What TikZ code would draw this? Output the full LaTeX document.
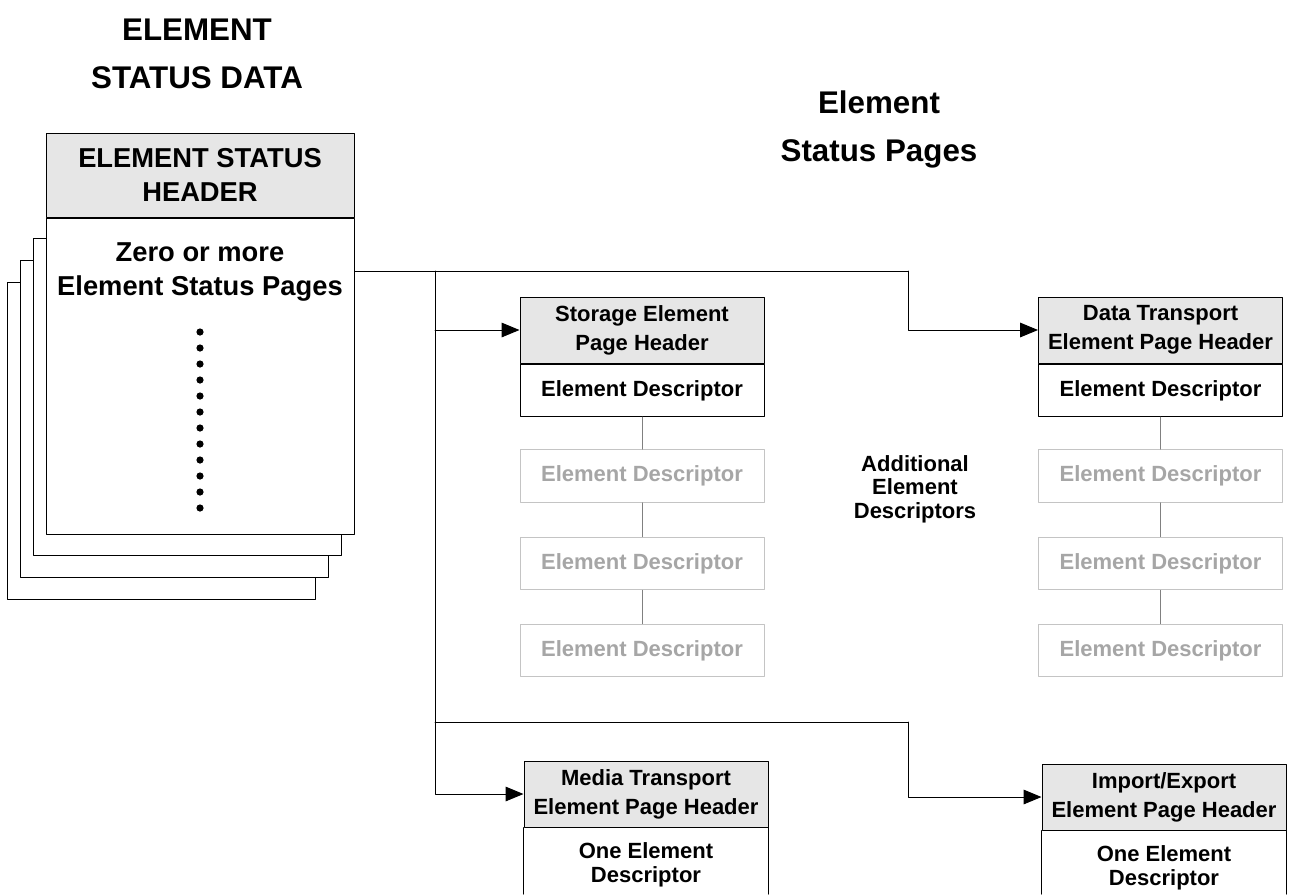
\documentclass[tikz,border=0pt]{standalone}
\usepackage{fontspec}
\setmainfont{Liberation Sans}
\usetikzlibrary{arrows.meta}

\definecolor{hdrgray}{HTML}{E6E6E6}
\definecolor{boxgray}{HTML}{C4C4C4}
\definecolor{txtgray}{HTML}{A6A6A6}
\definecolor{lnkgray}{HTML}{808080}

\begin{document}
\begin{tikzpicture}[x=0.75pt,y=-0.75pt,line cap=round,line join=round,line width=0.75pt,
	every node/.style={inner sep=0pt,align=center,font=\fontsize{16.5}{21.75}\selectfont\bfseries},
	title/.style={font=\fontsize{23.5}{36}\selectfont\bfseries},
	pagehdr/.style={draw,fill=hdrgray,minimum width=231pt,minimum height=63pt,font=\fontsize{20.5}{25.5}\selectfont\bfseries},
	sechdr/.style={draw,fill=hdrgray,minimum width=183pt,minimum height=49.5pt},
	descbox/.style={draw,fill=white,minimum width=183pt,minimum height=39.5pt},
	ghostbox/.style={descbox,draw=boxgray,text=txtgray},
	onedesc/.style={font=\fontsize{16.5}{18}\selectfont\bfseries},
	arr/.style={-{Triangle[length=13.5pt,width=11pt]}},
	lnk/.style={draw=lnkgray}]
		\useasboundingbox (0,0) rectangle (1295,894);
		\node[title] (ttlesd) at (197,54) {ELEMENT\\STATUS DATA};
		\node[title] (ttlesp) at (879,129) {Element\\Status Pages};
		\foreach \k in {3,2,1}
			\draw[fill=white] ({46-13*\k},{216+22*\k}) rectangle ++(308,317);
		\node[pagehdr] (esh) at (200,175) {ELEMENT STATUS\\HEADER};
		\node[draw,fill=white,minimum width=231pt,minimum height=237pt,anchor=north] (esb) at (esh.south) {};
		\node[font=\fontsize{20.5}{26}\selectfont\bfseries] (espages) at (200,272) {Zero or more\\Element Status Pages};
		\foreach \k in {0,...,11}
			\fill (200,{332+16*\k}) circle (2.7pt);
		\node[sechdr] (seh) at (642,330) {Storage Element\\Page Header};
		\node[descbox,anchor=north] (sed) at (seh.south) {Element Descriptor};
		\node[sechdr] (dth) at (1160.5,330) {Data Transport\\Element Page Header};
		\node[descbox,anchor=north] (dtd) at (dth.south) {Element Descriptor};
		\foreach \y [count=\i] in {476,563.5,650.5} {
			\node[ghostbox] (seg\i) at (642,\y) {Element Descriptor};
			\node[ghostbox] (dtg\i) at (1160.5,\y) {Element Descriptor};
		}
		\draw[lnk] (sed) -- (seg1);
		\draw[lnk] (seg1) -- (seg2);
		\draw[lnk] (seg2) -- (seg3);
		\draw[lnk] (dtd) -- (dtg1);
		\draw[lnk] (dtg1) -- (dtg2);
		\draw[lnk] (dtg2) -- (dtg3);
		\node (addl) at (915,489) [font=\fontsize{16.5}{17.6}\selectfont\bfseries] {Additional\\Element\\Descriptors};
		\node[sechdr] (mth) at (646,794) {Media Transport\\Element Page Header};
		\draw (mth.south west) -- (mth.south west |- 0,894);
		\draw (mth.south east) -- (mth.south east |- 0,894);
		\node[onedesc] (mtd) at (646,865) {One Element\\Descriptor};
		\node[sechdr] (ieh) at (1164,797) {Import/Export\\Element Page Header};
		\draw (ieh.south west) -- (ieh.south west |- 0,894);
		\draw (ieh.south east) -- (ieh.south east |- 0,894);
		\node[onedesc] (ied) at (1164,867.5) {One Element\\Descriptor};
		\coordinate (tap) at (esb.east |- 0,271);
		\coordinate (trunk) at (435,271);
		\coordinate (split) at (908,271);
		\coordinate (fork) at (435,722);
		\coordinate (bend) at (908,722);
		\draw (tap) -- (split);
		\draw[arr] (split) |- (dth.west);
		\draw[arr] (trunk) |- (mth.west);
		\draw[arr] (trunk |- seh.west) -- (seh.west);
		\draw (fork) -- (bend);
		\draw[arr] (bend) |- (ieh.west);
\end{tikzpicture}
\end{document}
